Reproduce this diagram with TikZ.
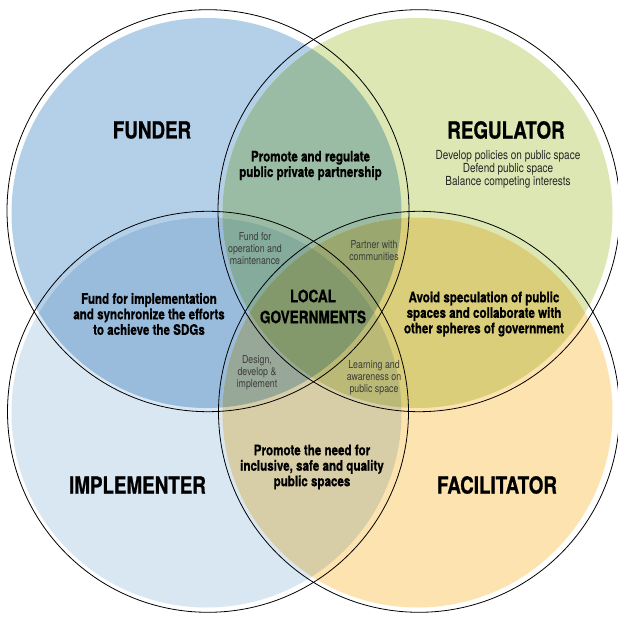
\documentclass[tikz,border=0pt]{standalone}
\usepackage{fontspec}
\setmainfont{TeX Gyre Heros}[FakeStretch=0.8, BoldFeatures={FakeBold=0.8}]
\definecolor{cF}{RGB}{180,208,232}
\definecolor{cR}{RGB}{220,231,180}
\definecolor{cI}{RGB}{217,231,243}
\definecolor{cFa}{RGB}{253,227,175}
\definecolor{cFR}{RGB}{155,188,164}
\definecolor{cFI}{RGB}{153,188,221}
\definecolor{cFFa}{RGB}{179,185,159}
\definecolor{cRI}{RGB}{187,209,172}
\definecolor{cRFa}{RGB}{218,206,123}
\definecolor{cIFa}{RGB}{215,206,167}
\definecolor{cFRI}{RGB}{132,171,156}
\definecolor{cFRFa}{RGB}{154,168,112}
\definecolor{cFIFa}{RGB}{152,168,152}
\definecolor{cRIFa}{RGB}{186,186,118}
\definecolor{cAll}{RGB}{131,152,107}
\definecolor{smallgray}{RGB}{60,60,60}
\tikzset{
  bigtitle/.style={font=\fontsize{23.5}{26}\selectfont\bfseries, text=black, inner sep=0pt},
  boldtext/.style={font=\fontsize{14.5}{15.5}\selectfont\bfseries, align=center, text=black, inner sep=0pt},
  centertext/.style={font=\fontsize{17}{21}\selectfont\bfseries, align=center, text=black, inner sep=0pt},
  subtext/.style={font=\fontsize{12.5}{13}\selectfont, align=center, text=black!85, inner sep=0pt},
  tinytext/.style={font=\fontsize{11}{12}\selectfont, align=center, text=smallgray, inner sep=0pt},
  outline/.style={draw=black, line width=0.8pt}
}
\begin{document}
\begin{tikzpicture}[x=1pt,y=-1pt]
\useasboundingbox (0,0) rectangle (618,617);
\clip (0,0) rectangle (618,617);
\fill[white] (0,0) rectangle (618,617);
\def\pF{(206.5,213) circle[radius=195pt]}
\def\pR{(417.5,213) circle[radius=195pt]}
\def\pI{(206.5,412.5) circle[radius=195pt]}
\def\pFa{(417.5,412.5) circle[radius=195pt]}
% single
\fill[cF] \pF;
\fill[cR] \pR;
\fill[cI] \pI;
\fill[cFa] \pFa;
% pairs
\begin{scope}\clip \pF; \fill[cFR] \pR; \end{scope}
\begin{scope}\clip \pF; \fill[cFI] \pI; \end{scope}
\begin{scope}\clip \pF; \fill[cFFa] \pFa; \end{scope}
\begin{scope}\clip \pR; \fill[cRI] \pI; \end{scope}
\begin{scope}\clip \pR; \fill[cRFa] \pFa; \end{scope}
\begin{scope}\clip \pI; \fill[cIFa] \pFa; \end{scope}
% triples
\begin{scope}\clip \pF; \clip \pR; \fill[cFRI] \pI; \end{scope}
\begin{scope}\clip \pF; \clip \pR; \fill[cFRFa] \pFa; \end{scope}
\begin{scope}\clip \pF; \clip \pI; \fill[cFIFa] \pFa; \end{scope}
\begin{scope}\clip \pR; \clip \pI; \fill[cRIFa] \pFa; \end{scope}
% all four
\begin{scope}\clip \pF; \clip \pR; \clip \pI; \fill[cAll] \pFa; \end{scope}
% outlines
\draw[outline] (208,210.7) circle[radius=201pt];
\draw[outline] (419,210.7) circle[radius=201pt];
\draw[outline] (208,411.8) circle[radius=200.5pt];
\draw[outline] (419,411.8) circle[radius=200.5pt];
% labels
\node[bigtitle] (funder) at (152,130) {FUNDER};
\node[bigtitle] (regulator) at (506,130) {REGULATOR};
\node[bigtitle] (implementer) at (137.5,485) {IMPLEMENTER};
\node[bigtitle] (facilitator) at (497,485) {FACILITATOR};
\node[subtext] (regsub) at (508,169) {Develop policies on public space\\Defend public space\\Balance competing interests};
\node[boldtext] (ppp) at (310.5,165.5) {Promote and regulate\\public private partnership};
\node[boldtext] (fundimpl) at (149,314) {Fund for implementation\\and synchronize the efforts\\to achieve the SDGs};
\node[centertext] (local) at (313,306.5) {LOCAL\\GOVERNMENTS};
\node[boldtext] (avoid) at (484,314) {Avoid speculation of public\\spaces and collaborate with\\other spheres of government};
\node[boldtext] (promote) at (312,467) {Promote the need for\\inclusive, safe and quality\\public spaces};
\node[tinytext] (fundop) at (255,249) {Fund for\\operation and\\maintenance};
\node[tinytext] (partner) at (374,250.5) {Partner with\\communities};
\node[tinytext] (design) at (257,373) {Design,\\develop \&\\implement};
\node[tinytext] (learning) at (374,377.5) {Learning and\\awareness on\\public space};
\end{tikzpicture}
\end{document}
